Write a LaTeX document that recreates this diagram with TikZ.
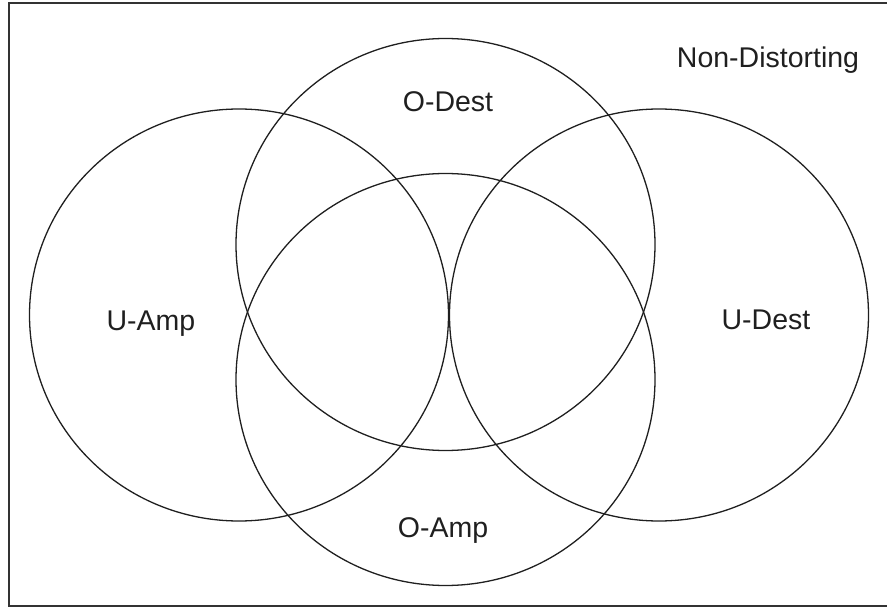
\documentclass[tikz,border=0pt]{standalone}
\usepackage{fontspec}
\setmainfont{Liberation Sans}
\usetikzlibrary{shapes.geometric}
\begin{document}
\begin{tikzpicture}[x=1pt,y=-1pt,
  setring/.style={ellipse,draw=black!88,line width=1.3pt,minimum width=419pt,minimum height=412pt,inner sep=0pt},
  setlabel/.style={anchor=base,text=black!88,inner sep=0pt,font=\fontsize{28.5}{34}\selectfont}]
\useasboundingbox (0,0) rectangle (887,607);
\draw[black!80,line width=1.6pt] (8.7,3.3) rectangle (900,605.7);
\node[setring] (uamp) at (239,315) {};
\node[setring] (odest) at (445.5,244.5) {};
\node[setring] (udest) at (659,315) {};
\node[setring] (oamp) at (445.5,379.5) {};
\node[setlabel] (luamp) at (151,330.7) {U-Amp};
\node[setlabel] (ludest) at (766,329) {U-Dest};
\node[setlabel] (lodest) at (448,112) {O-Dest};
\node[setlabel] (loamp) at (443,537) {O-Amp};
\node[setlabel] (lnon) at (768,68) {Non-Distorting};
\end{tikzpicture}
\end{document}
